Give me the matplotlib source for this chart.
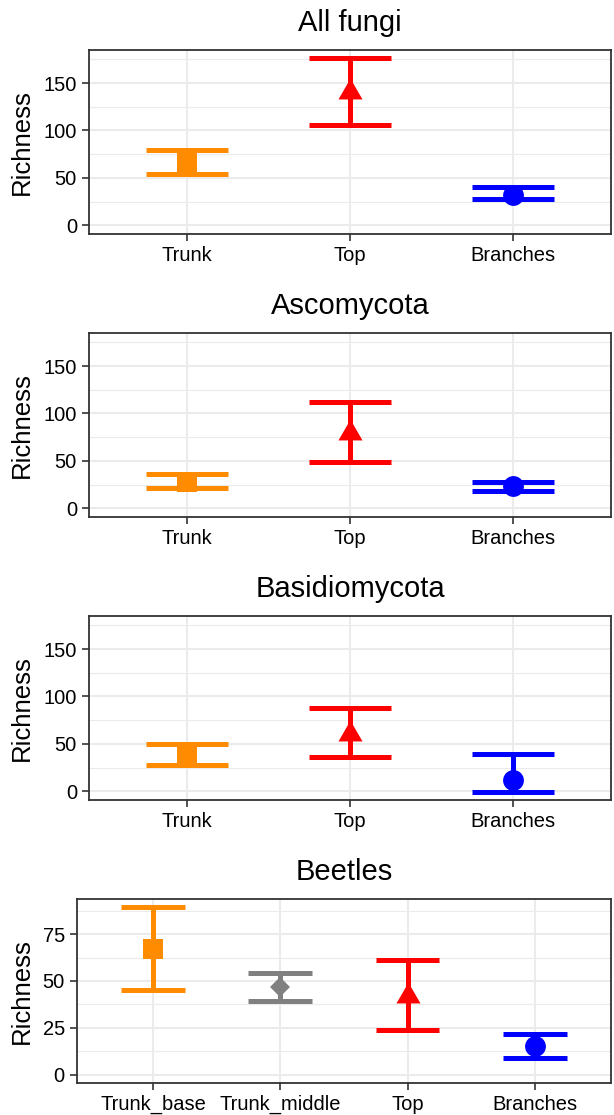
import matplotlib
matplotlib.use('Agg')
import matplotlib.pyplot as plt
from matplotlib.ticker import MultipleLocator

plt.rcParams['font.family'] = ['Liberation Sans', 'DejaVu Sans']

# Datos (media y limites del intervalo)
fungi_groups = ['Trunk', 'Top', 'Branches']

all_mean = [67.0, 140.5, 32.4]
all_low = [54.5, 106.2, 27.8]
all_high = [79.8, 176.0, 39.9]

asco_mean = [27.8, 79.8, 23.5]
asco_low = [21.0, 49.2, 18.5]
asco_high = [35.6, 111.9, 28.2]

basidio_mean = [38.8, 60.7, 11.8]
basidio_low = [28.2, 36.0, -0.4]
basidio_high = [49.5, 87.7, 39.2]

beetle_groups = ['Trunk_base', 'Trunk_middle', 'Top', 'Branches']
beetle_mean = [67.3, 46.6, 42.0, 15.1]
beetle_low = [45.2, 39.3, 23.7, 8.9]
beetle_high = [89.3, 54.1, 61.4, 21.5]

# Estilo por grupo: color, marcador, tamano
tri = [(0, 1.555), (-1.347, -0.778), (1.347, -0.778), (0, 1.555)]
estilos = {
    'Trunk': ('#FF8C00', 's', 14.5),
    'Trunk_base': ('#FF8C00', 's', 15),
    'Trunk_middle': ('#808080', 'D', 10),
    'Top': ('#FF0000', tri, 20),
    'Branches': ('#0000FF', 'o', 15),
}

W, H = 614, 1115
fig = plt.figure(figsize=(W / 100, H / 100), dpi=100)


def rango(lows, highs):
    lo = min(0, min(lows))
    hi = max(highs)
    r = hi - lo
    return lo - 0.05 * r, hi + 0.05 * r


def panel(rect_px, grupos, media, bajo, alto, titulo, ylim, mayor):
    left, top, right, bottom = rect_px
    ax = fig.add_axes([left / W, 1 - bottom / H, (right - left) / W, (bottom - top) / H])
    x = list(range(len(grupos)))
    for i, g in enumerate(grupos):
        color, marker, ms = estilos[g]
        ax.vlines(x[i], bajo[i], alto[i], color=color, lw=3.6, zorder=3)
        ax.hlines([bajo[i], alto[i]], x[i] - 0.25, x[i] + 0.25, color=color, lw=3.6, zorder=3)
        ax.plot(x[i], media[i], marker=marker, ms=ms, color=color, mec=color, mew=0, zorder=4)
    ax.set_xlim(-0.6, len(grupos) - 1 + 0.6)
    ax.set_ylim(*ylim)
    ax.set_xticks(x)
    ax.set_xticklabels(grupos)
    ax.yaxis.set_major_locator(MultipleLocator(mayor))
    ax.yaxis.set_minor_locator(MultipleLocator(mayor / 2))
    ax.grid(True, which='major', color='#EBEBEB', lw=1.5, zorder=0)
    ax.grid(True, which='minor', axis='y', color='#EBEBEB', lw=0.8, zorder=0)
    ax.set_axisbelow(True)
    ax.tick_params(axis='both', which='major', length=5, width=1.2, color='#333333',
                   labelsize=14.5, labelcolor='black', pad=3.5)
    ax.tick_params(axis='y', which='minor', length=0)
    for s in ax.spines.values():
        s.set_color('#333333')
        s.set_linewidth(1.3)
    ax.set_title(titulo, fontsize=21, pad=14)
    ax.set_ylabel('Richness', fontsize=18.5)
    ax.yaxis.set_label_coords(21.5 / W, 1 - (top + bottom) / 2 / H, transform=fig.transFigure)
    ax.yaxis.label.set_verticalalignment('center')
    return ax


fungi_ylim = rango(all_low + asco_low + basidio_low, all_high + asco_high + basidio_high)

panel((88.7, 50, 611.3, 234), fungi_groups, all_mean, all_low, all_high, 'All fungi', fungi_ylim, 50)
panel((88.7, 333, 611.3, 517), fungi_groups, asco_mean, asco_low, asco_high, 'Ascomycota', fungi_ylim, 50)
panel((88.7, 616, 611.3, 800), fungi_groups, basidio_mean, basidio_low, basidio_high, 'Basidiomycota', fungi_ylim, 50)
panel((76.6, 899, 611.3, 1083), beetle_groups, beetle_mean, beetle_low, beetle_high, 'Beetles',
      rango(beetle_low, beetle_high), 25)

fig.savefig('out.png', dpi=100)
